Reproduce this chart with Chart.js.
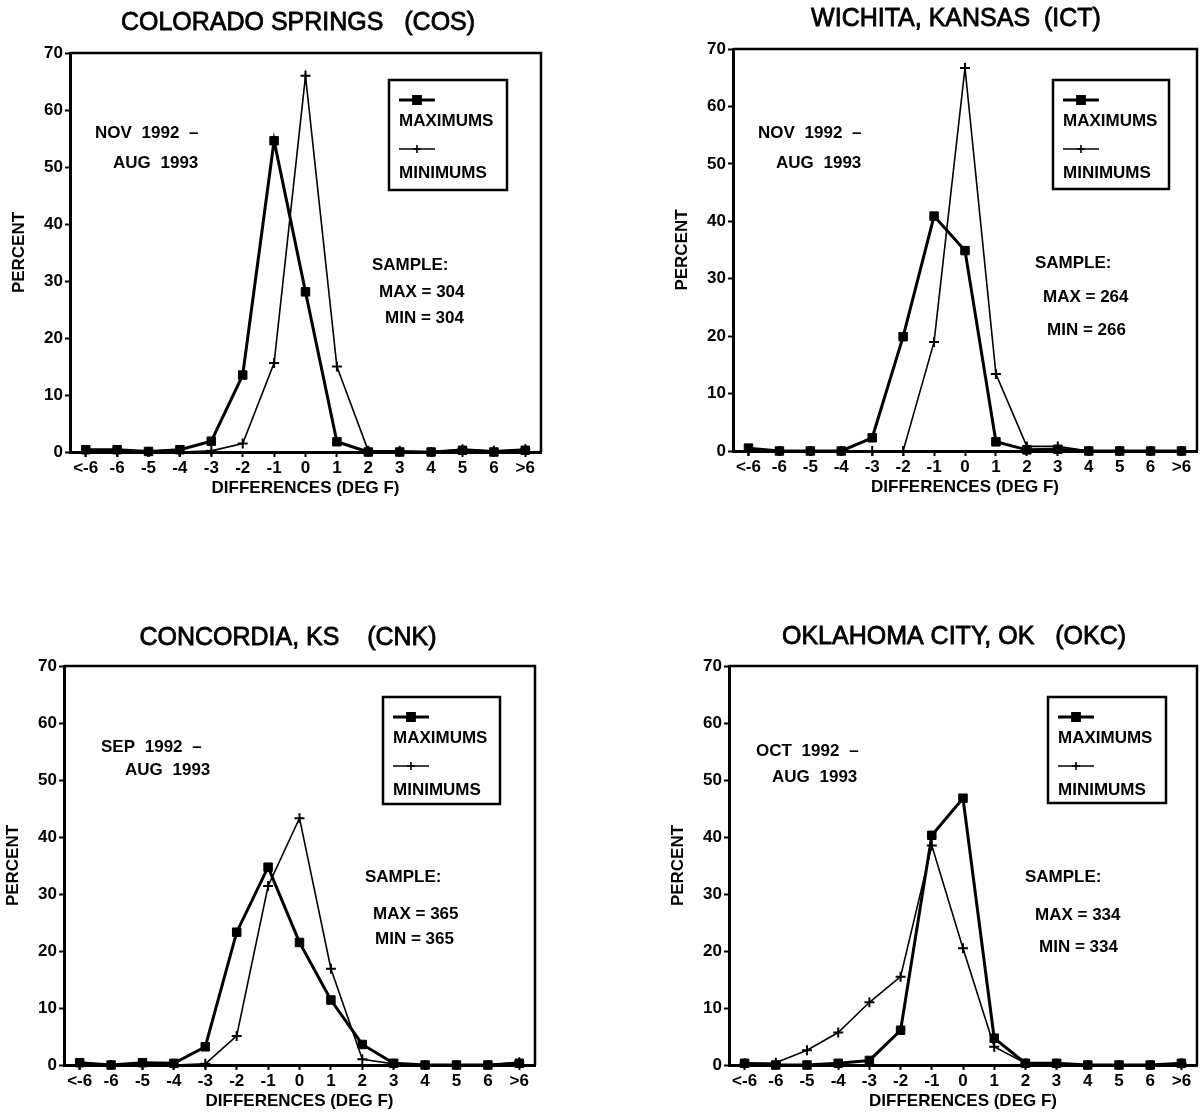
<!DOCTYPE html>
<html lang="en">
<head>
<meta charset="utf-8">
<title>Max / min temperature differences</title>
<script src="https://cdn.jsdelivr.net/npm/chart.js@4.4.1/dist/chart.umd.min.js"></script>
<style>
    html, body { margin: 0; padding: 0; background: #fff; }
    body { position: relative; width: 1204px; height: 1117px; overflow: hidden; }
    .panel { position: absolute; }
    .panel canvas { display: block; }
</style>
</head>
<body>
<div class="panel" style="left:0;top:0"><canvas id="cos" width="602" height="540"></canvas></div>
<div class="panel" style="left:602px;top:0"><canvas id="ict" width="602" height="540"></canvas></div>
<div class="panel" style="left:0;top:540px"><canvas id="cnk" width="602" height="577"></canvas></div>
<div class="panel" style="left:602px;top:540px"><canvas id="okc" width="602" height="577"></canvas></div>
<script>
"use strict";

// difference bins (deg F) and percent axis ticks
const categories = ["<-6", "-6", "-5", "-4", "-3", "-2", "-1", "0", "1", "2", "3", "4", "5", "6", ">6"];
const percentTicks = [0, 10, 20, 30, 40, 50, 60, 70];

// percent of cases
const cosMaximums = [0.4, 0.4, 0.1, 0.4, 1.9, 13.5, 54.6, 28.1, 1.8, 0, 0, 0, 0.3, 0, 0.3];
const cosMinimums = [0, 0, 0, 0, 0.2, 1.5, 15.6, 66.0, 15.0, 0.2, 0.2, 0, 0.5, 0.2, 0.5];

const ictMaximums = [0.5, 0, 0, 0, 2.3, 19.9, 40.9, 34.9, 1.6, 0.2, 0.3, 0, 0, 0, 0];
const ictMinimums = [0, 0, 0, 0, 0, 0, 19.0, 66.7, 13.4, 0.8, 0.8, 0, 0, 0, 0];

const cnkMaximums = [0.4, 0, 0.4, 0.3, 3.2, 23.3, 34.7, 21.5, 11.4, 3.6, 0.3, 0, 0, 0, 0.3];
const cnkMinimums = [0, 0, 0, 0, 0.2, 5.1, 31.4, 43.3, 16.9, 1.0, 0.2, 0, 0, 0, 0.5];

const okcMaximums = [0.3, 0, 0, 0.3, 0.8, 6.1, 40.3, 46.8, 4.7, 0.3, 0.3, 0, 0, 0, 0.3];
const okcMinimums = [0.3, 0.4, 2.6, 5.7, 11.0, 15.5, 38.5, 20.5, 3.2, 0.3, 0.2, 0, 0, 0, 0.3];

// panel texts
const stationTitles = ["COLORADO SPRINGS   (COS)", "WICHITA, KANSAS  (ICT)", "CONCORDIA, KS    (CNK)", "OKLAHOMA CITY, OK   (OKC)"];
const periodStarts = ["NOV 1992 –", "NOV 1992 –", "SEP 1992 –", "OCT 1992 –"];
const periodEnd = "AUG 1993";
const sampleMax = [304, 264, 365, 334];
const sampleMin = [304, 266, 365, 334];

const FONT = "'Liberation Sans', Arial, Helvetica, sans-serif";

// layout of each panel, canvas-local pixels
const panels = [
    {
        id: "cos", maximums: cosMaximums, minimums: cosMinimums,
        area: { left: 70, top: 53, right: 541, bottom: 452 },
        title: [298, 23], dates: [[95, 133], [113, 163]],
        sample: [[372, 265], [379, 292], [385, 318]],
        legend: { x: 389, y: 80, w: 118, h: 110 }
    },
    {
        id: "ict", maximums: ictMaximums, minimums: ictMinimums,
        area: { left: 131, top: 49, right: 601, bottom: 451 },
        title: [354, 19], dates: [[156, 133], [174, 163]],
        sample: [[433, 263], [441, 297], [445, 330]],
        legend: { x: 451, y: 80, w: 116, h: 109 }
    },
    {
        id: "cnk", maximums: cnkMaximums, minimums: cnkMinimums,
        area: { left: 64, top: 126, right: 535, bottom: 525 },
        title: [288, 98], dates: [[101, 207], [125, 230]],
        sample: [[365, 337], [373, 374], [375, 399]],
        legend: { x: 383, y: 157, w: 117, h: 107 }
    },
    {
        id: "okc", maximums: okcMaximums, minimums: okcMinimums,
        area: { left: 127, top: 126, right: 601, bottom: 525 },
        title: [352, 97], dates: [[154, 211], [170, 237]],
        sample: [[423, 337], [433, 375], [437, 407]],
        legend: { x: 446, y: 157, w: 118, h: 106 }
    }
];

const maxStyle = { pointStyle: "rect", radius: 6, borderWidth: 1, lineWidth: 3 };
const minStyle = { pointStyle: "cross", radius: 5, borderWidth: 2, lineWidth: 1.6 };

Chart.defaults.font.family = FONT;
Chart.defaults.color = "#000";

const panelTextPlugin = {
    id: "panelText",
    afterDraw(chart, args, opts) {
        const { ctx, chartArea } = chart;
        ctx.save();

        // top and right edges of the frame
        ctx.strokeStyle = "#000";
        ctx.lineWidth = 2.5;
        ctx.beginPath();
        ctx.moveTo(chartArea.left, chartArea.top);
        ctx.lineTo(chartArea.right, chartArea.top);
        ctx.lineTo(chartArea.right, chartArea.bottom);
        ctx.stroke();

        ctx.fillStyle = "#000";
        ctx.textBaseline = "middle";

        // station title, slightly heavier than the regular face
        ctx.font = "25px " + FONT;
        ctx.textAlign = "center";
        ctx.lineWidth = 0.8;
        ctx.fillText(opts.title, opts.titlePos[0], opts.titlePos[1]);
        ctx.strokeText(opts.title, opts.titlePos[0], opts.titlePos[1]);

        ctx.textAlign = "left";
        ctx.font = "bold 17px " + FONT;
        ctx.wordSpacing = "5px";
        ctx.fillText(opts.periodStart, opts.dates[0][0], opts.dates[0][1]);
        ctx.fillText(periodEnd, opts.dates[1][0], opts.dates[1][1]);
        ctx.wordSpacing = "0px";

        ctx.fillText("SAMPLE:", opts.sample[0][0], opts.sample[0][1]);
        ctx.fillText("MAX = " + opts.sampleMax, opts.sample[1][0], opts.sample[1][1]);
        ctx.fillText("MIN = " + opts.sampleMin, opts.sample[2][0], opts.sample[2][1]);

        drawLegendBox(ctx, opts.legend);
        ctx.restore();
    }
};

function drawLegendBox(ctx, box) {
    ctx.lineWidth = 2.5;
    ctx.strokeRect(box.x, box.y, box.w, box.h);

    const x0 = box.x + 10;
    const x1 = box.x + 46;
    const rows = [
        { style: maxStyle, y: box.y + 20, label: "MAXIMUMS", labelY: box.y + 41 },
        { style: minStyle, y: box.y + 69, label: "MINIMUMS", labelY: box.y + 93 }
    ];

    for (const row of rows) {
        ctx.lineWidth = row.style.lineWidth;
        ctx.beginPath();
        ctx.moveTo(x0, row.y);
        ctx.lineTo(x1, row.y);
        ctx.stroke();
        Chart.helpers.drawPoint(ctx, {
            pointStyle: row.style.pointStyle,
            radius: row.style.radius * 0.8,
            borderWidth: row.style.borderWidth,
            rotation: 0
        }, (x0 + x1) / 2, row.y);
        ctx.fill();
        ctx.fillText(row.label, x0, row.labelY);
    }
}

function createPanelChart(panel, index) {
    const canvas = document.getElementById(panel.id);
    const width = canvas.width;
    const height = canvas.height;
    const area = panel.area;

    return new Chart(canvas, {
        type: "line",
        data: {
            labels: categories,
            datasets: [
                createDataset("MAXIMUMS", panel.maximums, maxStyle),
                createDataset("MINIMUMS", panel.minimums, minStyle)
            ]
        },
        options: {
            responsive: false,
            animation: false,
            devicePixelRatio: 1,
            layout: {
                padding: { left: 0, top: area.top, right: width - area.right, bottom: 0 }
            },
            scales: {
                x: {
                    type: "category",
                    offset: true,
                    afterFit(scale) {
                        scale.height = height - area.bottom;
                    },
                    border: { display: true, color: "#000", width: 3 },
                    grid: {
                        drawOnChartArea: false,
                        drawTicks: true,
                        tickLength: 5,
                        tickWidth: 2,
                        tickColor: "#000"
                    },
                    ticks: {
                        autoSkip: false,
                        maxRotation: 0,
                        padding: 1,
                        font: { size: 17, weight: "bold" }
                    },
                    title: {
                        display: true,
                        text: "DIFFERENCES (DEG F)",
                        font: { size: 17, weight: "bold" },
                        padding: { top: 0, bottom: height - 10.2 - (area.bottom + 36.5) }
                    }
                },
                y: {
                    min: 0,
                    max: 70,
                    afterFit(scale) {
                        scale.width = area.left;
                    },
                    afterBuildTicks(scale) {
                        scale.ticks = percentTicks.map(value => ({ value }));
                    },
                    border: { display: true, color: "#000", width: 3 },
                    grid: {
                        drawOnChartArea: false,
                        drawTicks: true,
                        tickLength: 5,
                        tickWidth: 2,
                        tickColor: "#000"
                    },
                    ticks: {
                        padding: 2,
                        font: { size: 17, weight: "bold" }
                    },
                    title: {
                        display: true,
                        text: "PERCENT",
                        font: { size: 17, weight: "bold" },
                        padding: { top: area.left - 51 - 10.2, bottom: 0 }
                    }
                }
            },
            plugins: {
                legend: { display: false },
                tooltip: { enabled: false },
                panelText: {
                    title: stationTitles[index],
                    titlePos: panel.title,
                    periodStart: periodStarts[index],
                    dates: panel.dates,
                    sample: panel.sample,
                    sampleMax: sampleMax[index],
                    sampleMin: sampleMin[index],
                    legend: panel.legend
                }
            }
        },
        plugins: [panelTextPlugin]
    });
}

function createDataset(label, values, style) {
    return {
        label,
        data: values,
        borderColor: "#000",
        backgroundColor: "#000",
        borderWidth: style.lineWidth,
        pointStyle: style.pointStyle,
        pointRadius: style.radius,
        pointBorderWidth: style.borderWidth,
        pointBackgroundColor: "#000",
        pointBorderColor: "#000",
        tension: 0,
        clip: false
    };
}

panels.forEach(createPanelChart);
</script>
</body>
</html>
